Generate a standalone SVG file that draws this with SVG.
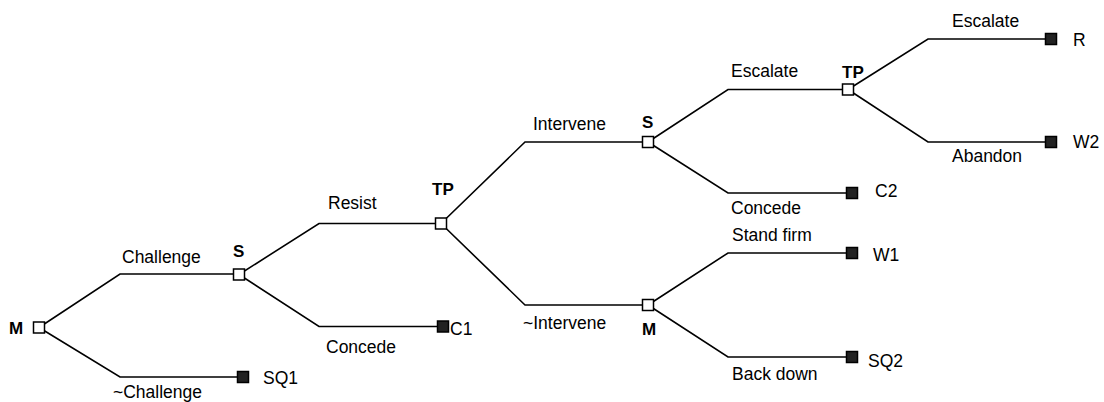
<svg xmlns="http://www.w3.org/2000/svg" width="1104" height="402" viewBox="0 0 1104 402">
<style>
.e{fill:none;stroke:#000;stroke-width:1.6}
.d{fill:#fff;stroke:#000;stroke-width:1.5}
.t{fill:#222;stroke:#000;stroke-width:1.5}
text{font-family:"Liberation Sans",Arial,sans-serif;font-size:17.5px;fill:#000}
.b{font-weight:bold;font-size:17px}
</style>
<rect width="1104" height="402" fill="#fff"/>
<g id="connectors">
<path class="e" d="M39 327.5L120 274H239"/>
<path class="e" d="M39 327.5L120 377H243"/>
<path class="e" d="M239 274.5L319 223.5H441"/>
<path class="e" d="M239 274.5L319 326.5H443"/>
<path class="e" d="M441 223.5L525 142H648"/>
<path class="e" d="M441 223.5L525 305H648"/>
<path class="e" d="M648 142L728 89.5H848"/>
<path class="e" d="M648 142L728 193H852"/>
<path class="e" d="M848 89.5L928 39H1051"/>
<path class="e" d="M848 89.5L928 142H1051"/>
<path class="e" d="M648 305L728 253H852"/>
<path class="e" d="M648 305L728 357H852"/>
</g>
<g id="labels">
<text x="122" y="263">Challenge</text>
<text x="113" y="398">~Challenge</text>
<text x="328" y="209">Resist</text>
<text x="326" y="353">Concede</text>
<text x="533" y="130">Intervene</text>
<text x="523" y="329">~Intervene</text>
<text x="731" y="77">Escalate</text>
<text x="731" y="214">Concede</text>
<text x="732" y="241">Stand firm</text>
<text x="732" y="380">Back down</text>
<text x="952" y="27">Escalate</text>
<text x="952" y="162">Abandon</text>
</g>
<g id="node-M1"><rect class="d" x="33.5" y="322" width="11" height="11"/><text class="b" x="9" y="334">M</text></g>
<g id="node-S1"><rect class="d" x="233.5" y="269" width="11" height="11"/><text class="b" x="233" y="257">S</text></g>
<g id="node-SQ1"><rect class="t" x="237.5" y="371.5" width="11" height="11"/><text x="263" y="384">SQ1</text></g>
<g id="node-TP1"><rect class="d" x="435.5" y="218" width="11" height="11"/><text class="b" x="432" y="195">TP</text></g>
<g id="node-C1"><rect class="t" x="437.5" y="321" width="11" height="11"/><text x="450" y="335">C1</text></g>
<g id="node-S2"><rect class="d" x="642.5" y="136.5" width="11" height="11"/><text class="b" x="642" y="128">S</text></g>
<g id="node-M2"><rect class="d" x="642.5" y="299.5" width="11" height="11"/><text class="b" x="642" y="335">M</text></g>
<g id="node-TP2"><rect class="d" x="842.5" y="84" width="11" height="11"/><text class="b" x="842" y="78">TP</text></g>
<g id="node-C2"><rect class="t" x="846.5" y="187.5" width="11" height="11"/><text x="875" y="197">C2</text></g>
<g id="node-W1"><rect class="t" x="846.5" y="247.5" width="11" height="11"/><text x="873" y="261">W1</text></g>
<g id="node-SQ2"><rect class="t" x="846.5" y="351.5" width="11" height="11"/><text x="868" y="367">SQ2</text></g>
<g id="node-R"><rect class="t" x="1045.5" y="33.5" width="11" height="11"/><text x="1073" y="46">R</text></g>
<g id="node-W2"><rect class="t" x="1045.5" y="136.5" width="11" height="11"/><text x="1073" y="148">W2</text></g>
</svg>
